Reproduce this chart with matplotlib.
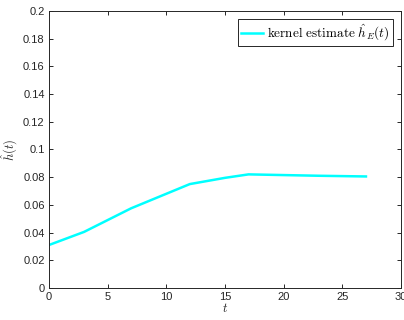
import matplotlib
matplotlib.use("Agg")
import matplotlib.pyplot as plt

t = [0, 3, 5, 7, 10, 12, 15, 17, 20, 23, 27]
h = [0.031, 0.0405, 0.049, 0.0575, 0.068, 0.075, 0.0795, 0.082, 0.0815, 0.081, 0.0805]
xticks = [0, 5, 10, 15, 20, 25, 30]
yticks = [0, 0.02, 0.04, 0.06, 0.08, 0.1, 0.12, 0.14, 0.16, 0.18, 0.2]
yticklabels = ["0", "0.02", "0.04", "0.06", "0.08", "0.1", "0.12", "0.14", "0.16", "0.18", "0.2"]

plt.rcParams["font.family"] = ["Liberation Sans", "DejaVu Sans"]
plt.rcParams["mathtext.fontset"] = "cm"

fig = plt.figure(figsize=(4.04, 3.2), dpi=100)
ax = fig.add_axes([0.121, 0.1, 0.872, 0.866])
ax.plot(t, h, color="#00FFFF", lw=1.8, label=r"$\mathrm{kernel\ estimate}\ \hat{h}_E(t)$")
ax.set_xlim(0, 30)
ax.set_ylim(0, 0.2)
ax.set_xticks(xticks)
ax.set_yticks(yticks)
ax.set_yticklabels(yticklabels)
axc = "#262626"
for s in ax.spines.values():
    s.set_color(axc)
    s.set_linewidth(0.7)
ax.tick_params(direction="in", length=3, width=0.7, colors=axc, labelsize=8,
               top=True, right=True, pad=3)
ax.set_xlabel(r"$t$", fontsize=9, color=axc, labelpad=0)
ax.set_ylabel(r"$\hat{h}(t)$", fontsize=9, color=axc, labelpad=2)
leg = ax.legend(loc="upper right", fontsize=9.5, frameon=True, fancybox=False,
                edgecolor=axc, handlelength=1.7, handletextpad=0.3, borderpad=0.25,
                borderaxespad=0.6, framealpha=1)
leg.get_frame().set_linewidth(0.7)
fig.savefig("out.png", dpi=100)
